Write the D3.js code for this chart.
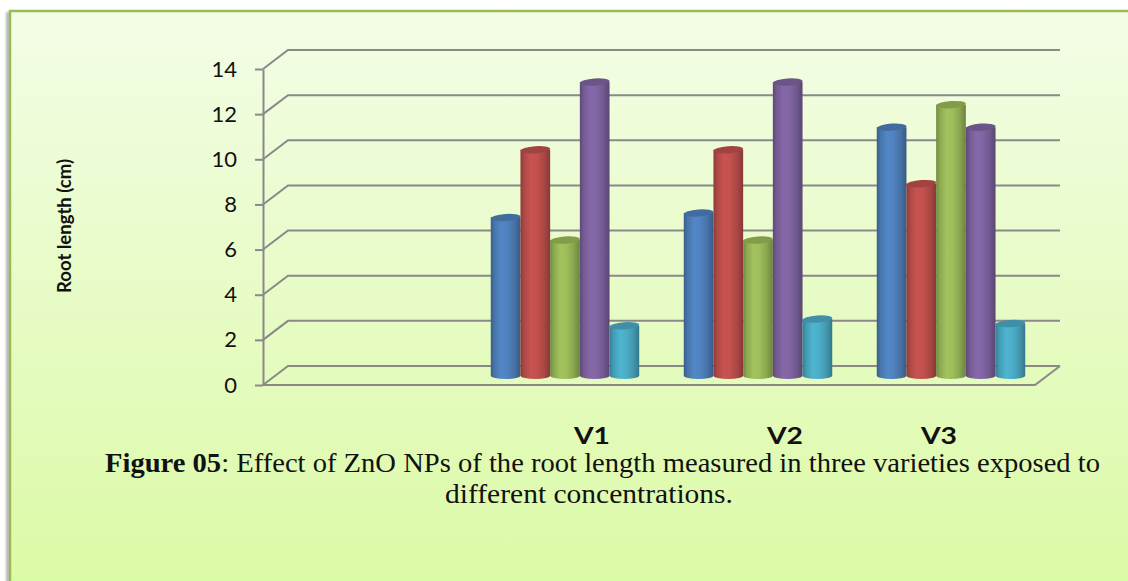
<!DOCTYPE html>
<html>
<head>
<meta charset="utf-8">
<script src="https://cdn.jsdelivr.net/npm/d3@7"></script>
<style>
  html, body { margin: 0; padding: 0; background: #ffffff; }
  svg { display: block; }
  .serif { font-family: "Liberation Serif", "Times New Roman", Tinos, serif; }
  .sans { font-family: Lato, "Open Sans", sans-serif; }
</style>
</head>
<body>
<svg id="chart" width="1128" height="581"></svg>
<script>
// Root length (cm) for each variety, one array per concentration series.
// The first category slot is left empty in the chart.
const categories = ["", "V1", "V2", "V3"];
const seriesBlue   = [null, 7.0, 7.2, 11.0];
const seriesRed    = [null, 10.0, 10.0, 8.5];
const seriesGreen  = [null, 6.0, 6.0, 12.0];
const seriesPurple = [null, 13.0, 13.0, 11.0];
const seriesCyan   = [null, 2.2, 2.5, 2.3];
const yTicks = [0, 2, 4, 6, 8, 10, 12, 14];
const categoryLabels = ["V1", "V2", "V3"];
const yTitle = "Root length (cm)";
const captionBold = "Figure 05";
const captionRest = ": Effect of ZnO NPs of the root length measured in three varieties exposed to";
const captionLine2 = "different concentrations.";

const seriesValues = [seriesBlue, seriesRed, seriesGreen, seriesPurple, seriesCyan];
const seriesColors = ["#4f81bd", "#c0504d", "#9bbb59", "#8064a2", "#4bacc6"];

const svg = d3.select("#chart");
const W = 1128, H = 581;

// ---- layout ----
const plot = { left: 263, right: 1035, top: 69, bottom: 385 };
const depth = { dx: 25, dy: -19 };
const labelX = [592, 785, 939];   // hand-placed category captions
const labelY = 444;

const defs = svg.append("defs");

// panel background
const bg = defs.append("linearGradient").attr("id", "bgGrad")
  .attr("x1", 0).attr("y1", 0).attr("x2", 0).attr("y2", 1);
bg.append("stop").attr("offset", "0%").attr("stop-color", "#f3fde6");
bg.append("stop").attr("offset", "100%").attr("stop-color", "#dbfaa5");

const blur = defs.append("filter").attr("id", "soft")
  .attr("x", "-50%").attr("y", "-5%").attr("width", "200%").attr("height", "110%");
blur.append("feGaussianBlur").attr("stdDeviation", 1.2);

// shadow strip along the left edge, then the panel, then its top/left border
svg.append("rect").attr("x", 6).attr("y", 12).attr("width", 4).attr("height", H)
  .attr("fill", "#b8b8b8").attr("filter", "url(#soft)");
svg.append("rect")
  .attr("x", 9).attr("y", 10).attr("width", W).attr("height", H)
  .attr("fill", "url(#bgGrad)");
svg.append("path")
  .attr("d", `M10,${H + 5} L10,11 L${W + 5},11`)
  .attr("fill", "none").attr("stroke", "#9bbb59").attr("stroke-width", 2.5);

// ---- scales ----
const x = d3.scaleBand().domain(categories).range([plot.left, plot.right]).padding(0);
const groupW = x.bandwidth() * 5 / 6.5;
const xs = d3.scaleBand().domain(d3.range(seriesValues.length)).range([0, groupW]).padding(0);
const y = d3.scaleLinear().domain([0, 14]).range([plot.bottom, plot.top]);

const gridColor = "#898989";

// back wall gridlines with their diagonal run to the front axis
const grid = svg.append("g");
grid.selectAll("path.grid").data(yTicks).join("path")
  .attr("class", "grid")
  .attr("fill", "none").attr("stroke", gridColor).attr("stroke-width", 2)
  .attr("d", v => {
    const yf = y(v);
    return `M${plot.left},${yf} L${plot.left + depth.dx},${yf + depth.dy} L${plot.right + depth.dx},${yf + depth.dy}`;
  });

// floor front edge and right side
grid.append("path")
  .attr("fill", "none").attr("stroke", gridColor).attr("stroke-width", 2)
  .attr("d", `M${plot.left},${y(0)} L${plot.right},${y(0)} L${plot.right + depth.dx},${y(0) + depth.dy}`);

// value axis
const yAxis = d3.axisLeft(y).tickValues(yTicks).tickSize(8).tickSizeOuter(0).tickPadding(18);
const axG = svg.append("g").attr("transform", `translate(${plot.left},0)`).call(yAxis);
axG.attr("font-family", null).attr("font-size", null);
axG.select(".domain").attr("stroke", gridColor).attr("stroke-width", 2);
axG.selectAll(".tick line").attr("stroke", gridColor).attr("stroke-width", 2);
axG.selectAll(".tick text")
  .attr("class", "sans")
  .attr("font-size", 22).attr("fill", "#111");

// ---- cylinders ----
function makeGradient(id, base) {
  const c = d3.color(base);
  const g = defs.append("linearGradient").attr("id", id)
    .attr("x1", 0).attr("y1", 0).attr("x2", 1).attr("y2", 0);
  const stops = [
    [0, c.darker(0.9)],
    [0.12, c.darker(0.3)],
    [0.35, c.brighter(0.12)],
    [0.55, c.brighter(0.05)],
    [0.8, c.darker(0.35)],
    [1, c.darker(1.0)]
  ];
  stops.forEach(([o, col]) => g.append("stop").attr("offset", o).attr("stop-color", col.formatHex()));
}
seriesColors.forEach((col, i) => makeGradient("cyl" + i, col));

const midShift = { dx: depth.dx / 2, dy: depth.dy / 2 };
const ry = 3.6;

const bars = [];
categories.forEach((cat, ci) => {
  seriesValues.forEach((vals, si) => {
    const v = vals[ci];
    if (v == null) return;
    bars.push({ cat, si, v });
  });
});

const barG = svg.append("g");
const cyl = barG.selectAll("g.cyl").data(bars).join("g").attr("class", "cyl");

cyl.each(function (d) {
  const g = d3.select(this);
  const bw = xs.bandwidth();
  const x0 = x(d.cat) + (x.bandwidth() - groupW) / 2 + xs(d.si) + midShift.dx;
  const cx = x0 + bw / 2;
  const yTop = y(d.v) + midShift.dy;
  const yBot = y(0) + midShift.dy;
  const base = d3.color(seriesColors[d.si]);
  // body including rounded bottom
  g.append("path")
    .attr("fill", `url(#cyl${d.si})`)
    .attr("d", `M${x0},${yTop} L${x0},${yBot} A${bw / 2},${ry} 0 0 0 ${x0 + bw},${yBot} L${x0 + bw},${yTop} Z`);
  // top cap, slightly tilted
  g.append("ellipse")
    .attr("cx", cx).attr("cy", yTop).attr("rx", bw / 2).attr("ry", ry)
    .attr("transform", `rotate(-4 ${cx} ${yTop})`)
    .attr("fill", base.darker(0.5).formatHex());
});

// ---- text ----
svg.append("text")
  .attr("class", "sans")
  .attr("transform", `translate(71,226) rotate(-90)`)
  .attr("text-anchor", "middle")
  .attr("font-weight", "bold").attr("font-size", 18.5).attr("fill", "#111")
  .text(yTitle);

svg.append("g").selectAll("text").data(categoryLabels).join("text")
  .attr("class", "sans")
  .attr("x", (d, i) => labelX[i] - 18).attr("y", labelY)
  .attr("font-weight", "bold").attr("font-size", 23).attr("fill", "#111")
  .attr("textLength", 36).attr("lengthAdjust", "spacingAndGlyphs")
  .text(d => d);

const cap = svg.append("text")
  .attr("class", "serif")
  .attr("x", 105).attr("y", 472)
  .attr("font-size", 26.5).attr("fill", "#111")
  .attr("textLength", 995).attr("lengthAdjust", "spacingAndGlyphs");
cap.append("tspan").attr("font-weight", "bold").text(captionBold);
cap.append("tspan").text(captionRest);

svg.append("text")
  .attr("class", "serif")
  .attr("x", 445).attr("y", 503)
  .attr("font-size", 26.5).attr("fill", "#111")
  .attr("textLength", 288).attr("lengthAdjust", "spacingAndGlyphs")
  .text(captionLine2);
</script>
</body>
</html>
